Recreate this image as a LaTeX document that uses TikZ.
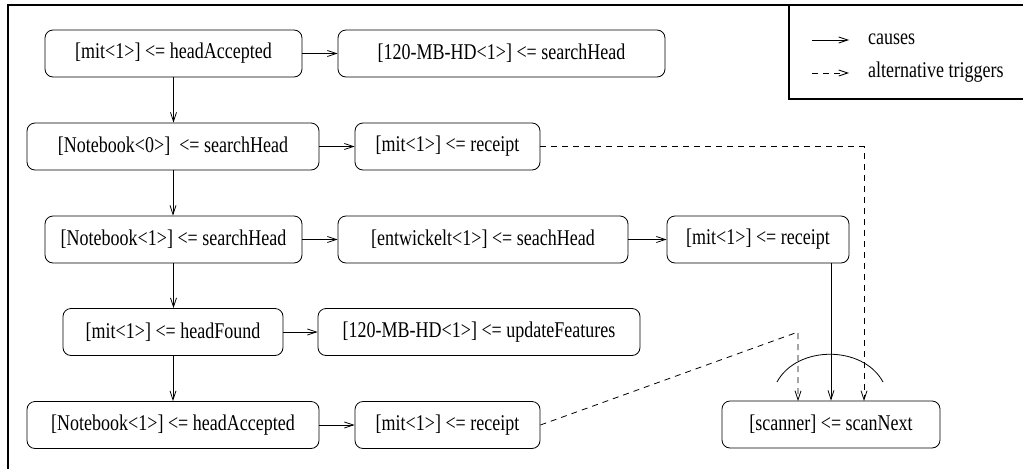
\documentclass[tikz,border=0pt]{standalone}
\usepackage{fontspec}
\usepackage{graphicx}
\setmainfont{Liberation Serif}
\usetikzlibrary{arrows.meta}
% state labels are set in a tall, narrow serif
\newcommand\tallt[1]{\scalebox{1}[1.25]{#1}}
\begin{document}
\begin{tikzpicture}[x=1pt,y=-1pt,
  every node/.style={font=\fontsize{18}{20}\selectfont},
  state/.style={draw, rounded corners=8pt, minimum height=47pt, inner sep=0pt, line width=0.8pt},
  link/.style={line width=0.8pt},
  cause/.style={link, -{Straight Barb[length=9pt,width=6pt]}},
  alt/.style={link, dash pattern=on 6pt off 5pt, -{Straight Barb[length=9pt,width=6pt]}},
  legendtext/.style={anchor=west, inner sep=0pt}]
  \useasboundingbox (0,0) rectangle (1023,469);
  % outer frame (open at right and bottom)
  \draw[line width=1.2pt] (8,469) -- (8,5) -- (1023,5);
  % legend box
  \draw[line width=1.2pt] (789,5) -- (789,99) -- (1023,99);
  \coordinate (la1) at (812,40); \coordinate (lb1) at (849,40);
  \coordinate (la2) at (812,73); \coordinate (lb2) at (849,73);
  \draw[cause] (la1) -- (lb1);
  \draw[alt] (la2) -- (lb2);
  \node[legendtext] (lc) at (868,39) {\tallt{causes}};
  \node[legendtext] (la) at (868,72) {\tallt{alternative triggers}};

  % states
  \node[state, minimum width=257pt] (n1)  at (173.5,53.5) {\tallt{[mit<1>] <= headAccepted}};
  \node[state, minimum width=327pt] (n2)  at (501.5,53.5) {\tallt{[120-MB-HD<1>] <= searchHead}};
  \node[state, minimum width=292pt] (n3)  at (173,146.5)  {\tallt{[Notebook<0>]\ \ <= searchHead}};
  \node[state, minimum width=185pt] (n4)  at (447.5,146.5) {\tallt{[mit<1>] <= receipt}};
  \node[state, minimum width=257pt] (n5)  at (173.5,239.5) {\tallt{[Notebook<1>] <= searchHead}};
  \node[state, minimum width=290pt] (n6)  at (483,239.5)  {\tallt{[entwickelt<1>] <= seachHead}};
  \node[state, minimum width=182pt] (n7)  at (758,239.5)  {\tallt{[mit<1>] <= receipt}};
  \node[state, minimum width=220pt] (n8)  at (173,332)    {\tallt{[mit<1>] <= headFound}};
  \node[state, minimum width=322pt] (n9)  at (479,332)    {\tallt{[120-MB-HD<1>] <= updateFeatures}};
  \node[state, minimum width=292pt] (n10) at (173,425)    {\tallt{[Notebook<1>] <= headAccepted}};
  \node[state, minimum width=185pt] (n11) at (447.5,425)  {\tallt{[mit<1>] <= receipt}};
  \node[state, minimum width=218pt] (n12) at (831,424.5)  {\tallt{[scanner] <= scanNext}};

  % causal chain down the left column
  \draw[cause] (n1.south) -- (n1.south |- n3.north);
  \draw[cause] (n3.south) -- (n3.south |- n5.north);
  \draw[cause] (n5.south) -- (n5.south |- n8.north);
  \draw[cause] (n8.south) -- (n8.south |- n10.north);
  % horizontal causes
  \draw[cause] (n1.east) -- (n2.west);
  \draw[cause] (n3.east) -- (n4.west);
  \draw[cause] (n5.east) -- (n6.west);
  \draw[cause] (n6.east) -- (n7.west);
  \draw[cause] (n8.east) -- (n9.west);
  \draw[cause] (n10.east) -- (n11.west);

  % triggers of the scanner
  \coordinate (in1) at (798,401);
  \coordinate (in2) at (864,401);
  \coordinate (bend1) at (798,332);
  \draw[cause] (n12.north |- n7.south) -- (n12.north);
  \draw[alt] (n4.east) -- (n4.east -| in2) -- (in2);
  \draw[alt] (n11.east) -- (bend1) -- (in1);
  % alternative bracket
  \draw[link] (777,382) .. controls (797,345) and (863,345) .. (883,382);
\end{tikzpicture}
\end{document}
